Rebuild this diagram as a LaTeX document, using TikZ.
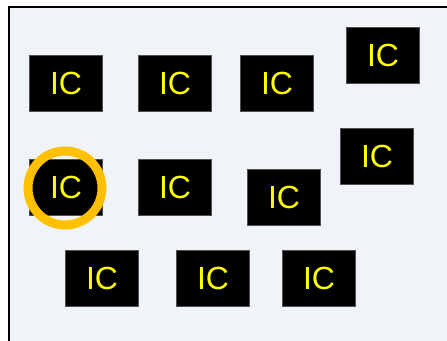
\documentclass[tikz,border=0pt]{standalone}
\usepackage{fontspec}
\setmainfont{Liberation Sans}
\definecolor{bgpanel}{HTML}{F0F4F9}
\definecolor{ictext}{HTML}{FFFF00}
\definecolor{ring}{HTML}{FFC000}
\definecolor{icborder}{HTML}{505050}
\begin{document}
\begin{tikzpicture}[x=1pt,y=-1pt,
  icbox/.style={draw=icborder,line width=0.8pt,fill=black,minimum width=73pt,minimum height=56pt,inner sep=0pt,text=ictext,font=\fontsize{32}{34}\selectfont},
  ringstyle/.style={draw=ring,line width=9pt}]
\useasboundingbox (0,0) rectangle (447,340);
\fill[white] (0,0) rectangle (447,340);
\draw[fill=bgpanel,line width=2pt] (9,7) rectangle (460,360);
\node[icbox] (a) at (66,83) {IC};
\node[icbox] (b) at (175,83) {IC};
\node[icbox] (c) at (277,83) {IC};
\node[icbox] (d) at (383,55) {IC};
\node[icbox] (e) at (66,187) {IC};
\node[icbox] (f) at (175,187) {IC};
\node[icbox] (g) at (284,197) {IC};
\node[icbox] (h) at (377,156) {IC};
\node[icbox] (i) at (102,278) {IC};
\node[icbox] (j) at (213,278) {IC};
\node[icbox] (k) at (319,278) {IC};
\draw[ringstyle] (65,188) circle (37);
\end{tikzpicture}
\end{document}
